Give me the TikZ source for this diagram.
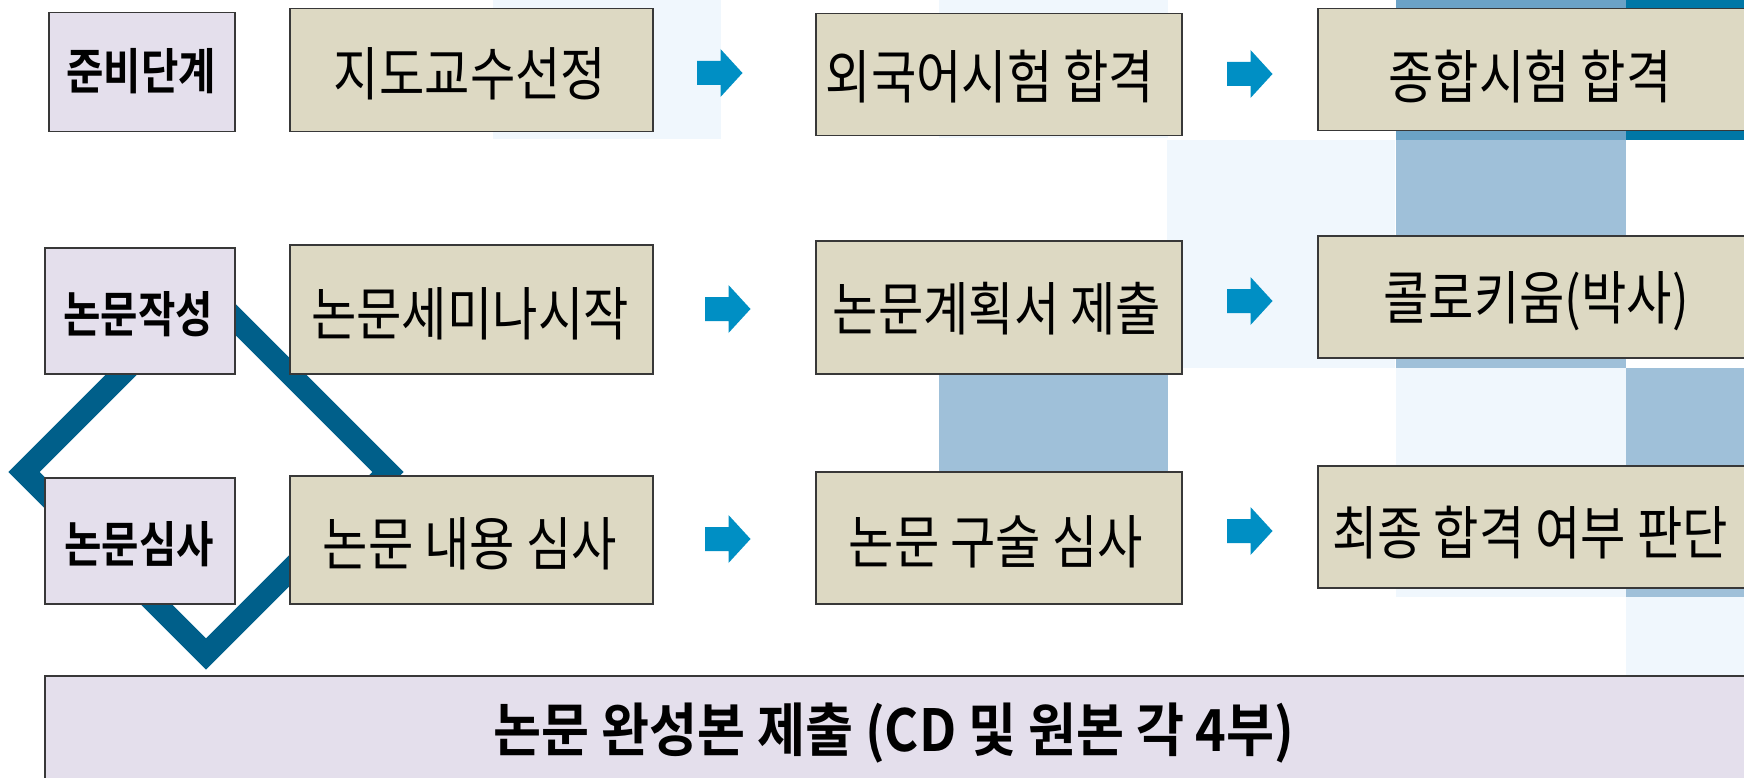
\documentclass[tikz,border=0pt]{standalone}
\usepackage{fontspec}
\newfontfamily\kr{Noto Sans CJK KR}[FakeStretch=0.85]
\newfontfamily\krb{Noto Sans CJK KR Bold}[FakeStretch=0.83]
\newfontfamily\krbb{Noto Sans CJK KR Bold}[FakeStretch=0.9]
\definecolor{tanfill}{HTML}{DDD9C3}
\definecolor{lavfill}{HTML}{E4DFEC}
\definecolor{boxline}{HTML}{383838}
\definecolor{lightcell}{HTML}{F0F7FD}
\definecolor{medcell}{HTML}{9FC0D9}
\definecolor{darkcell}{HTML}{6BA2C6}
\definecolor{tealcell}{HTML}{0077A6}
\definecolor{arrowblue}{HTML}{008FC4}
\definecolor{diamondblue}{HTML}{005F8A}
\tikzset{
  stagebox/.style={draw=boxline, line width=1.5pt, fill=tanfill, inner sep=0pt, anchor=north west},
  labelbox/.style={draw=boxline, line width=1.5pt, fill=lavfill, inner sep=0pt, anchor=north west},
  stagetext/.style={inner sep=0pt, font=\kr\fontsize{58}{64}\selectfont},
  labeltext/.style={inner sep=0pt, font=\krb\fontsize{49}{55}\selectfont},
  finaltext/.style={inner sep=0pt, font=\krbb\fontsize{58}{64}\selectfont},
  diamondline/.style={draw=diamondblue, line width=22pt, miter limit=10},
  blockarrow/.pic={\fill[arrowblue] (0,-12) -- (23.5,-12) -- (23.5,-24) -- (45.5,0) -- (23.5,24) -- (23.5,12) -- (0,12) -- cycle;}
}
\begin{document}
\begin{tikzpicture}[x=1pt,y=-1pt]
\useasboundingbox (0,0) rectangle (1744,778);
\clip (0,0) rectangle (1744,778);
% decorative background cells
\fill[lightcell] (493,0) rectangle (721,139);
\fill[lightcell] (939,0) rectangle (1168,138);
\fill[lightcell] (1167,140) rectangle (1395,368);
\fill[darkcell] (1396,0) rectangle (1626,140);
\fill[tealcell] (1626,0) rectangle (1744,140);
\fill[medcell] (1396,140) rectangle (1626,368);
\fill[medcell] (939,369) rectangle (1168,599);
\fill[lightcell] (1396,368) rectangle (1626,597);
\fill[medcell] (1626,368) rectangle (1744,597);
\fill[lightcell] (1626,597) rectangle (1744,690);
% diamond
\draw[diamondline] (206,290) -- (24,472) -- (206,654) -- (388,472) -- cycle;
% row 1
\node[labelbox, minimum width=186pt, minimum height=119pt] (p1) at (48,12) {};
\node[stagebox, minimum width=363pt, minimum height=123pt] (s11) at (289,8) {};
\node[stagebox, minimum width=366pt, minimum height=122pt] (s12) at (815,13) {};
\node[stagebox, minimum width=440pt, minimum height=122pt] (s13) at (1317,8) {};
% row 2
\node[labelbox, minimum width=190pt, minimum height=126pt] (p2) at (44,247) {};
\node[stagebox, minimum width=363pt, minimum height=129pt] (s21) at (289,244) {};
\node[stagebox, minimum width=366pt, minimum height=133pt] (s22) at (815,240) {};
\node[stagebox, minimum width=440pt, minimum height=122pt] (s23) at (1317,235) {};
% row 3
\node[labelbox, minimum width=190pt, minimum height=126pt] (p3) at (44,477) {};
\node[stagebox, minimum width=363pt, minimum height=128pt] (s31) at (289,475) {};
\node[stagebox, minimum width=366pt, minimum height=132pt] (s32) at (815,471) {};
\node[stagebox, minimum width=440pt, minimum height=122pt] (s33) at (1317,465) {};
% final
\node[labelbox, minimum width=1720pt, minimum height=120pt] (fin) at (44,675) {};
% arrows
\pic (a11) at (697,73) {blockarrow};
\pic (a12) at (1227,74) {blockarrow};
\pic (a21) at (705,309) {blockarrow};
\pic (a22) at (1227,301) {blockarrow};
\pic (a31) at (705,539) {blockarrow};
\pic (a32) at (1227,531) {blockarrow};
% texts
\node[labeltext] (t1) at (141,71.5) {준비단계};
\node[stagetext] (t11) at (470,74) {지도교수선정};
\node[stagetext] (t12) at (990,77) {외국어시험 합격};
\node[stagetext] (t13) at (1530,76.5) {종합시험 합격};
\node[labeltext] (t2) at (138,314) {논문작성};
\node[stagetext] (t21) at (470,313.5) {논문세미나시작};
\node[stagetext] (t22) at (997,309) {논문계획서 제출};
\node[stagetext] (t23) at (1536,301) {콜로키움(박사)};
\node[labeltext] (t3) at (139,544) {논문심사};
\node[stagetext] (t31) at (470,544) {논문 내용 심사};
\node[stagetext] (t32) at (996,541.5) {논문 구술 심사};
\node[stagetext] (t33) at (1530,532.5) {최종 합격 여부 판단};
\node[finaltext] (tf) at (894,733) {논문 완성본 제출 (CD 및 원본 각 4부)};
\end{tikzpicture}
\end{document}
